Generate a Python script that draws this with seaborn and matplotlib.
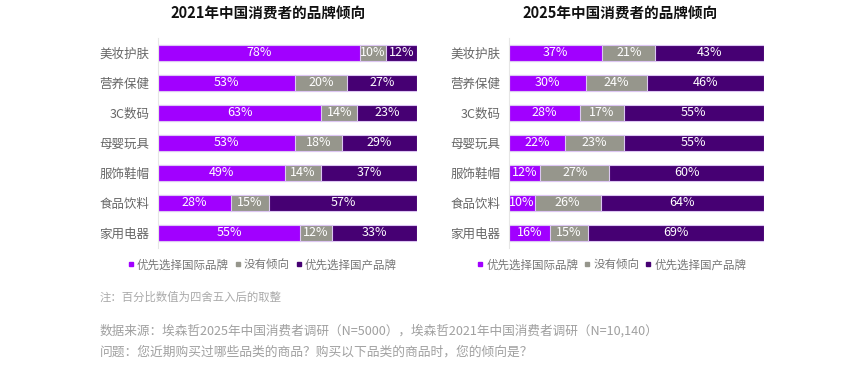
import numpy as np
import pandas as pd
import matplotlib
matplotlib.use("Agg")
import matplotlib.pyplot as plt
from matplotlib.lines import Line2D
import seaborn as sns

# data
categories = ["美妆护肤", "营养保健", "3C数码", "母婴玩具", "服饰鞋帽", "食品饮料", "家用电器"]
intl_2021 = [78, 53, 63, 53, 49, 28, 55]
none_2021 = [10, 20, 14, 18, 14, 15, 12]
dom_2021 = [12, 27, 23, 29, 37, 57, 33]
intl_2025 = [37, 30, 28, 22, 12, 10, 16]
none_2025 = [21, 24, 17, 23, 27, 26, 15]
dom_2025 = [43, 46, 55, 55, 60, 64, 69]
series_names = ["优先选择国际品牌", "没有倾向", "优先选择国产品牌"]
titles = ["2021年中国消费者的品牌倾向", "2025年中国消费者的品牌倾向"]

colors = ["#a100ff", "#96968c", "#460073"]
edge = "#dcc6f2"

sns.set_style("white")
plt.rcParams["font.family"] = ["Noto Sans CJK SC", "DejaVu Sans"]

fig = plt.figure(figsize=(8.65, 3.65), dpi=100)
ax1 = fig.add_axes([158 / 865, 1 - 248 / 365, 259 / 865, 210 / 365])
ax2 = fig.add_axes([509 / 865, 1 - 248 / 365, 255 / 865, 210 / 365])


def stacked(ax, intl, none, dom, title, title_x):
    df = pd.DataFrame({"cat": categories, "intl": intl, "none": none, "dom": dom})
    total = df[["intl", "none", "dom"]].sum(axis=1)
    # shares scaled so each row fills the bar
    df["c1"] = df["intl"] / total * 100
    df["c2"] = (df["intl"] + df["none"]) / total * 100
    df["c3"] = 100.0
    for col, c in zip(["c3", "c2", "c1"], colors[::-1]):
        sns.barplot(data=df, x=col, y="cat", orient="h", color=c, width=0.54,
                    edgecolor=edge, linewidth=0.8, ax=ax, saturation=1)
    # labels
    for i, row in df.iterrows():
        mids = [row["c1"] / 2, (row["c1"] + row["c2"]) / 2, (row["c2"] + 100) / 2]
        for m, v in zip(mids, [row["intl"], row["none"], row["dom"]]):
            ax.text(m, i, f"{v}%", ha="center", va="center", color="white", fontsize=9)
    ax.set_xlim(0, 100)
    ax.set_ylim(6.5, -0.5)
    ax.set_xlabel("")
    ax.set_ylabel("")
    ax.set_xticks([])
    ax.tick_params(axis="y", length=0, pad=6, labelsize=9, labelcolor="#666666")
    for s in ["top", "right", "bottom"]:
        ax.spines[s].set_visible(False)
    ax.spines["left"].set_color("#e6e6e6")
    ax.spines["left"].set_linewidth(0.8)
    fig.text(title_x / 865, 1 - 14 / 365, title, ha="center", va="center",
             fontsize=10.5, fontweight="bold", color="#111111")
    handles = [Line2D([], [], marker="s", linestyle="", markersize=3.5, color=c)
               for c in colors]
    ax.legend(handles, series_names, loc="center", bbox_to_anchor=(0.4, -0.08),
              ncol=3, frameon=False, fontsize=8.3, labelcolor="#777777",
              handletextpad=0.1, columnspacing=0.4, handlelength=0.8)


stacked(ax1, intl_2021, none_2021, dom_2021, titles[0], 268)
stacked(ax2, intl_2025, none_2025, dom_2025, titles[1], 620)

fig.text(100 / 865, 1 - 297 / 365, "注：百分比数值为四舍五入后的取整", fontsize=8.2,
         color="#aaaaaa", va="center")
fig.text(100 / 865, 1 - 331 / 365,
         "数据来源：埃森哲2025年中国消费者调研（N=5000），埃森哲2021年中国消费者调研（N=10,140）",
         fontsize=9.1, color="#a0a0a0", va="center")
fig.text(100 / 865, 1 - 352 / 365,
         "问题：您近期购买过哪些品类的商品？购买以下品类的商品时，您的倾向是？",
         fontsize=9.2, color="#a0a0a0", va="center")

fig.savefig("out.png", dpi=100, facecolor="white")
